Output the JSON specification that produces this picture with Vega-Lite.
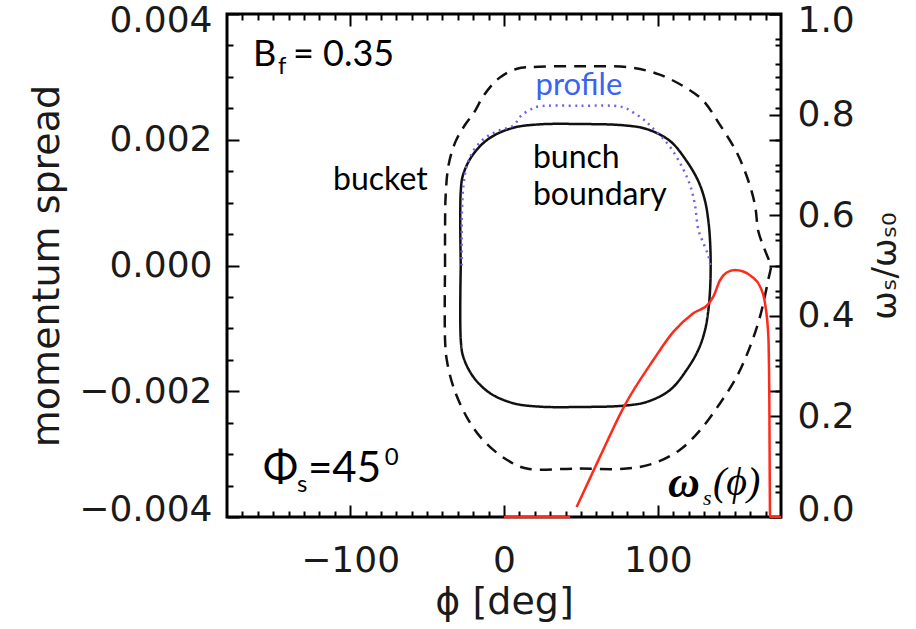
{
  "$schema": "https://vega.github.io/schema/vega-lite/v6.json",
  "width": 554,
  "height": 503,
  "autosize": "none",
  "padding": {"left": 227, "top": 14, "right": 135, "bottom": 112},
  "background": "white",
  "config": {
    "view": {"stroke": "#000", "strokeWidth": 3},
    "axis": {
      "domain": false, "grid": false,
      "labelFont": "DejaVu Sans", "labelFontSize": 36, "labelColor": "#1a1a1a",
      "titleFont": "DejaVu Sans", "titleFontSize": 38, "titleFontWeight": "normal", "titleColor": "#1a1a1a",
      "tickColor": "#000", "tickWidth": 2, "labelOverlap": false
    }
  },
  "datasets": {
    "curves": [
      {"s": "bucket", "o": 1, "phi": -38.3, "v": 0},
      {"s": "bucket", "o": 2, "phi": -38.3, "v": 0.00057},
      {"s": "bucket", "o": 3, "phi": -37.9, "v": 0.00112},
      {"s": "bucket", "o": 4, "phi": -36.0, "v": 0.0016},
      {"s": "bucket", "o": 5, "phi": -31.5, "v": 0.00197},
      {"s": "bucket", "o": 6, "phi": -25.5, "v": 0.00223},
      {"s": "bucket", "o": 7, "phi": -19.8, "v": 0.00242},
      {"s": "bucket", "o": 8, "phi": -12.7, "v": 0.00272},
      {"s": "bucket", "o": 9, "phi": -3.2, "v": 0.00298},
      {"s": "bucket", "o": 10, "phi": 8.4, "v": 0.00313},
      {"s": "bucket", "o": 11, "phi": 22.7, "v": 0.00316},
      {"s": "bucket", "o": 12, "phi": 52.6, "v": 0.00317},
      {"s": "bucket", "o": 13, "phi": 81.9, "v": 0.00315},
      {"s": "bucket", "o": 14, "phi": 100.7, "v": 0.00304},
      {"s": "bucket", "o": 15, "phi": 117.3, "v": 0.00284},
      {"s": "bucket", "o": 16, "phi": 129.1, "v": 0.00263},
      {"s": "bucket", "o": 17, "phi": 139.7, "v": 0.00226},
      {"s": "bucket", "o": 18, "phi": 151.2, "v": 0.0018},
      {"s": "bucket", "o": 19, "phi": 158.6, "v": 0.00136},
      {"s": "bucket", "o": 20, "phi": 163.1, "v": 0.00096},
      {"s": "bucket", "o": 21, "phi": 165.3, "v": 0.00054},
      {"s": "bucket", "o": 22, "phi": 169.0, "v": 0.00028},
      {"s": "bucket", "o": 23, "phi": 172.9, "v": 0.00004},
      {"s": "bucket", "o": 24, "phi": 173.5, "v": 0},
      {"s": "bucket", "o": 25, "phi": 171.7, "v": -0.00023},
      {"s": "bucket", "o": 26, "phi": 166.4, "v": -0.00081},
      {"s": "bucket", "o": 27, "phi": 159.9, "v": -0.00129},
      {"s": "bucket", "o": 28, "phi": 151.2, "v": -0.00177},
      {"s": "bucket", "o": 29, "phi": 140.4, "v": -0.00219},
      {"s": "bucket", "o": 30, "phi": 127.4, "v": -0.00262},
      {"s": "bucket", "o": 31, "phi": 114.4, "v": -0.00293},
      {"s": "bucket", "o": 32, "phi": 97.0, "v": -0.00315},
      {"s": "bucket", "o": 33, "phi": 79.7, "v": -0.00323},
      {"s": "bucket", "o": 34, "phi": 46.8, "v": -0.00323},
      {"s": "bucket", "o": 35, "phi": 14.8, "v": -0.00323},
      {"s": "bucket", "o": 36, "phi": 1.8, "v": -0.00309},
      {"s": "bucket", "o": 37, "phi": -13.5, "v": -0.00278},
      {"s": "bucket", "o": 38, "phi": -24.2, "v": -0.00241},
      {"s": "bucket", "o": 39, "phi": -32.9, "v": -0.00193},
      {"s": "bucket", "o": 40, "phi": -37.2, "v": -0.0015},
      {"s": "bucket", "o": 41, "phi": -38.3, "v": -0.00119},
      {"s": "bucket", "o": 42, "phi": -38.3, "v": 0},

      {"s": "bunch", "o": 1, "phi": -28.1, "v": 0},
      {"s": "bunch", "o": 2, "phi": -28.1, "v": -0.00118},
      {"s": "bunch", "o": 3, "phi": -26.5, "v": -0.00145},
      {"s": "bunch", "o": 4, "phi": -20.0, "v": -0.00177},
      {"s": "bunch", "o": 5, "phi": -9.1, "v": -0.00203},
      {"s": "bunch", "o": 6, "phi": 6.0, "v": -0.00219},
      {"s": "bunch", "o": 7, "phi": 23.4, "v": -0.002245},
      {"s": "bunch", "o": 8, "phi": 50, "v": -0.00225},
      {"s": "bunch", "o": 9, "phi": 77.5, "v": -0.00223},
      {"s": "bunch", "o": 10, "phi": 92.7, "v": -0.00217},
      {"s": "bunch", "o": 11, "phi": 107.9, "v": -0.00198},
      {"s": "bunch", "o": 12, "phi": 118.7, "v": -0.00166},
      {"s": "bunch", "o": 13, "phi": 126.3, "v": -0.00134},
      {"s": "bunch", "o": 14, "phi": 130.6, "v": -0.00103},
      {"s": "bunch", "o": 15, "phi": 132.8, "v": -0.00071},
      {"s": "bunch", "o": 16, "phi": 133.9, "v": -0.00039},
      {"s": "bunch", "o": 17, "phi": 134.3, "v": 0},
      {"s": "bunch", "o": 18, "phi": 133.9, "v": 0.00039},
      {"s": "bunch", "o": 19, "phi": 132.8, "v": 0.00071},
      {"s": "bunch", "o": 20, "phi": 130.6, "v": 0.00103},
      {"s": "bunch", "o": 21, "phi": 126.3, "v": 0.00134},
      {"s": "bunch", "o": 22, "phi": 118.7, "v": 0.00166},
      {"s": "bunch", "o": 23, "phi": 107.9, "v": 0.00198},
      {"s": "bunch", "o": 24, "phi": 92.7, "v": 0.00217},
      {"s": "bunch", "o": 25, "phi": 77.5, "v": 0.00223},
      {"s": "bunch", "o": 26, "phi": 50, "v": 0.00225},
      {"s": "bunch", "o": 27, "phi": 23.4, "v": 0.002245},
      {"s": "bunch", "o": 28, "phi": 6.0, "v": 0.00219},
      {"s": "bunch", "o": 29, "phi": -9.1, "v": 0.00203},
      {"s": "bunch", "o": 30, "phi": -20.0, "v": 0.00177},
      {"s": "bunch", "o": 31, "phi": -26.5, "v": 0.00145},
      {"s": "bunch", "o": 32, "phi": -28.1, "v": 0.00118},
      {"s": "bunch", "o": 33, "phi": -28.1, "v": 0},

      {"s": "profile", "o": 1, "phi": -27.5, "v": 0},
      {"s": "profile", "o": 2, "phi": -27.5, "v": 0.000406},
      {"s": "profile", "o": 3, "phi": -27.3, "v": 0.000883},
      {"s": "profile", "o": 4, "phi": -26.3, "v": 0.00128},
      {"s": "profile", "o": 5, "phi": -24.0, "v": 0.0016},
      {"s": "profile", "o": 6, "phi": -19.5, "v": 0.00184},
      {"s": "profile", "o": 7, "phi": -12.3, "v": 0.00203},
      {"s": "profile", "o": 8, "phi": -3.9, "v": 0.00214},
      {"s": "profile", "o": 9, "phi": 6.2, "v": 0.00223},
      {"s": "profile", "o": 10, "phi": 11.0, "v": 0.00238},
      {"s": "profile", "o": 11, "phi": 18.1, "v": 0.00249},
      {"s": "profile", "o": 12, "phi": 22.7, "v": 0.00253},
      {"s": "profile", "o": 13, "phi": 49.4, "v": 0.00254},
      {"s": "profile", "o": 14, "phi": 77.1, "v": 0.00252},
      {"s": "profile", "o": 15, "phi": 84.2, "v": 0.00243},
      {"s": "profile", "o": 16, "phi": 91.3, "v": 0.00231},
      {"s": "profile", "o": 17, "phi": 96.0, "v": 0.0022},
      {"s": "profile", "o": 18, "phi": 102.7, "v": 0.00204},
      {"s": "profile", "o": 19, "phi": 109.2, "v": 0.00184},
      {"s": "profile", "o": 20, "phi": 115.7, "v": 0.00157},
      {"s": "profile", "o": 21, "phi": 120.9, "v": 0.00128},
      {"s": "profile", "o": 22, "phi": 124.1, "v": 0.00096},
      {"s": "profile", "o": 23, "phi": 126.3, "v": 0.00057},
      {"s": "profile", "o": 24, "phi": 129.5, "v": 0.00036},
      {"s": "profile", "o": 25, "phi": 132.6, "v": 0.00017},
      {"s": "profile", "o": 26, "phi": 134.2, "v": 0},

      {"s": "ws1", "o": 1, "phi": 0, "v": 0},
      {"s": "ws1", "o": 2, "phi": 43, "v": 0},
      {"s": "ws2", "o": 1, "phi": 47.2, "v": 0.02},
      {"s": "ws2", "o": 2, "phi": 62.4, "v": 0.12},
      {"s": "ws2", "o": 3, "phi": 78.6, "v": 0.223},
      {"s": "ws2", "o": 4, "phi": 97.0, "v": 0.312},
      {"s": "ws2", "o": 5, "phi": 110.0, "v": 0.368},
      {"s": "ws2", "o": 6, "phi": 123.0, "v": 0.405},
      {"s": "ws2", "o": 7, "phi": 132.8, "v": 0.4235},
      {"s": "ws2", "o": 8, "phi": 136.0, "v": 0.438},
      {"s": "ws2", "o": 9, "phi": 140.4, "v": 0.471},
      {"s": "ws2", "o": 10, "phi": 144.7, "v": 0.486},
      {"s": "ws2", "o": 11, "phi": 150.1, "v": 0.491},
      {"s": "ws2", "o": 12, "phi": 155.5, "v": 0.488},
      {"s": "ws2", "o": 13, "phi": 161.0, "v": 0.478},
      {"s": "ws2", "o": 14, "phi": 166.4, "v": 0.458},
      {"s": "ws2", "o": 15, "phi": 169.6, "v": 0.425},
      {"s": "ws2", "o": 16, "phi": 171.8, "v": 0.358},
      {"s": "ws2", "o": 17, "phi": 172.4, "v": 0.239},
      {"s": "ws2", "o": 18, "phi": 172.9, "v": 0},
      {"s": "ws2", "o": 19, "phi": 180, "v": 0}
    ],
    "ann": [
      {"t": "B", "k": "big", "phi": -163.1, "v": 0.00317},
      {"t": "= 0.35", "k": "big", "phi": -137.1, "v": 0.00317},
      {"t": "f", "k": "small", "phi": -146.9, "v": 0.00305},
      {"t": "bucket", "k": "mid", "phi": -111.1, "v": 0.0012},
      {"t": "bunch", "k": "mid", "phi": 18.8, "v": 0.00155},
      {"t": "boundary", "k": "mid", "phi": 18.8, "v": 0.00096},
      {"t": "profile", "k": "blue", "phi": 48.7, "v": 0.00271},
      {"t": "Φ", "k": "huge", "phi": -156.6, "v": -0.00344},
      {"t": "=45", "k": "huge", "phi": -127.4, "v": -0.00344},
      {"t": "s", "k": "small", "phi": -134.5, "v": -0.0036},
      {"t": "0", "k": "small", "phi": -77.5, "v": -0.00317},
      {"t": "ω", "k": "om", "phi": 106.6, "v": -0.00368},
      {"t": "s", "k": "omsub", "phi": 129.3, "v": -0.00381},
      {"t": "(ϕ)", "k": "omp", "phi": 135.8, "v": -0.00365}
    ]
  },
  "layer": [
    {
      "data": {"name": "curves"},
      "transform": [{"filter": "datum.s === 'bucket' || datum.s === 'bunch'"}],
      "mark": {"type": "line", "interpolate": "catmull-rom", "strokeWidth": 2.5, "color": "#111"},
      "encoding": {
        "x": {
          "field": "phi", "type": "quantitative",
          "scale": {"domain": [-180, 180], "nice": false, "zero": false},
          "axis": {
            "orient": "bottom", "values": [-100, 0, 100], "format": "d",
            "tickSize": -12, "labelPadding": 38, "labelFlush": false,
            "title": "ϕ  [deg]", "titlePadding": 5
          }
        },
        "y": {
          "field": "v", "type": "quantitative",
          "scale": {"domain": [-0.004, 0.004], "nice": false, "zero": false},
          "axis": {
            "orient": "left", "values": [-0.004, -0.002, 0, 0.002, 0.004], "format": ".3f",
            "tickSize": -12, "labelPadding": 27, "labelFlush": true, "labelFlushOffset": 11,
            "title": "momentum  spread", "titlePadding": 12
          }
        },
        "order": {"field": "o", "type": "quantitative"},
        "strokeDash": {"field": "s", "type": "nominal", "scale": {"domain": ["bucket", "bunch"], "range": [[12, 8], [1, 0]]}, "legend": null}
      }
    },
    {
      "data": {"name": "curves"},
      "transform": [{"filter": "datum.s === 'profile'"}],
      "mark": {"type": "line", "interpolate": "catmull-rom", "strokeWidth": 2.5, "color": "#6f63e8", "strokeDash": [2, 4.5]},
      "encoding": {
        "x": {
          "field": "phi", "type": "quantitative",
          "axis": {
            "orient": "bottom",
            "values": [-170, -160, -150, -140, -130, -120, -110, -90, -80, -70, -60, -50, -40, -30, -20, -10, 10, 20, 30, 40, 50, 60, 70, 80, 90, 110, 120, 130, 140, 150, 160, 170],
            "labels": false, "tickSize": -6, "title": null
          }
        },
        "y": {
          "field": "v", "type": "quantitative",
          "scale": {"domain": [-0.004, 0.004], "nice": false, "zero": false},
          "axis": {
            "orient": "left",
            "values": [-0.0035, -0.003, -0.0025, -0.0015, -0.001, -0.0005, 0.0005, 0.001, 0.0015, 0.0025, 0.003, 0.0035],
            "labels": false, "tickSize": -6, "title": null
          }
        },
        "order": {"field": "o", "type": "quantitative"}
      }
    },
    {
      "data": {"name": "curves"},
      "transform": [{"filter": "datum.s === 'ws2'"}],
      "mark": {"type": "line", "interpolate": "monotone", "strokeWidth": 2.5, "color": "#ff2a1a"},
      "encoding": {
        "x": {
          "field": "phi", "type": "quantitative",
          "axis": {"orient": "top", "values": [-100, 0, 100], "labels": false, "tickSize": -12, "title": null}
        },
        "y": {
          "field": "v", "type": "quantitative",
          "scale": {"domain": [0, 1], "nice": false, "zero": false},
          "axis": {
            "orient": "right", "values": [0, 0.2, 0.4, 0.6, 0.8, 1], "format": ".1f",
            "tickSize": -12, "labelPadding": 28, "labelFlush": true, "labelFlushOffset": 11,
            "title": "ωₛ/ωₛ₀", "titleFontSize": 34, "titleAngle": 270, "titlePadding": 48
          }
        },
        "order": {"field": "o", "type": "quantitative"}
      }
    },
    {
      "data": {"name": "curves"},
      "transform": [{"filter": "datum.s === 'ws1'"}],
      "mark": {"type": "line", "strokeWidth": 2.5, "color": "#ff2a1a"},
      "encoding": {
        "x": {
          "field": "phi", "type": "quantitative",
          "axis": {
            "orient": "top",
            "values": [-170, -160, -150, -140, -130, -120, -110, -90, -80, -70, -60, -50, -40, -30, -20, -10, 10, 20, 30, 40, 50, 60, 70, 80, 90, 110, 120, 130, 140, 150, 160, 170],
            "labels": false, "tickSize": -6, "title": null
          }
        },
        "y": {
          "field": "v", "type": "quantitative",
          "scale": {"domain": [0, 1], "nice": false, "zero": false},
          "axis": {
            "orient": "right",
            "values": [0.05, 0.1, 0.15, 0.25, 0.3, 0.35, 0.45, 0.5, 0.55, 0.65, 0.7, 0.75, 0.85, 0.9, 0.95],
            "labels": false, "tickSize": -6, "title": null
          }
        },
        "order": {"field": "o", "type": "quantitative"}
      }
    },
    {
      "data": {"name": "ann"},
      "transform": [{"filter": "datum.k === 'big'"}],
      "mark": {"type": "text", "font": "Lato", "fontSize": 36, "align": "left", "baseline": "alphabetic", "color": "#000"},
      "encoding": {
        "x": {"field": "phi", "type": "quantitative", "axis": null},
        "y": {
          "field": "v", "type": "quantitative",
          "scale": {"domain": [-0.004, 0.004], "nice": false, "zero": false},
          "axis": {"orient": "right", "values": [-0.004, -0.002, 0, 0.002, 0.004], "labels": false, "tickSize": -12, "title": null}
        },
        "text": {"field": "t"}
      }
    },
    {
      "data": {"name": "ann"},
      "transform": [{"filter": "datum.k === 'small'"}],
      "mark": {"type": "text", "font": "Lato", "fontSize": 24, "align": "left", "baseline": "alphabetic", "color": "#000"},
      "encoding": {
        "x": {"field": "phi", "type": "quantitative", "axis": null},
        "y": {
          "field": "v", "type": "quantitative",
          "scale": {"domain": [-0.004, 0.004], "nice": false, "zero": false},
          "axis": {
            "orient": "right",
            "values": [-0.0035, -0.003, -0.0025, -0.0015, -0.001, -0.0005, 0.0005, 0.001, 0.0015, 0.0025, 0.003, 0.0035],
            "labels": false, "tickSize": -6, "title": null
          }
        },
        "text": {"field": "t"}
      }
    },
    {
      "data": {"name": "ann"},
      "transform": [{"filter": "datum.k === 'mid'"}],
      "mark": {"type": "text", "font": "Lato", "fontSize": 32, "align": "left", "baseline": "alphabetic", "color": "#000"},
      "encoding": {
        "x": {"field": "phi", "type": "quantitative", "axis": null},
        "y": {"field": "v", "type": "quantitative", "scale": {"domain": [-0.004, 0.004], "nice": false, "zero": false}, "axis": null},
        "text": {"field": "t"}
      }
    },
    {
      "data": {"name": "ann"},
      "transform": [{"filter": "datum.k === 'blue'"}],
      "mark": {"type": "text", "font": "Lato", "fontSize": 31, "align": "center", "baseline": "alphabetic", "color": "#3b63f2"},
      "encoding": {
        "x": {"field": "phi", "type": "quantitative", "axis": null},
        "y": {"field": "v", "type": "quantitative", "scale": {"domain": [-0.004, 0.004], "nice": false, "zero": false}, "axis": null},
        "text": {"field": "t"}
      }
    },
    {
      "data": {"name": "ann"},
      "transform": [{"filter": "datum.k === 'huge'"}],
      "mark": {"type": "text", "font": "Lato", "fontSize": 42, "align": "left", "baseline": "alphabetic", "color": "#000"},
      "encoding": {
        "x": {"field": "phi", "type": "quantitative", "axis": null},
        "y": {"field": "v", "type": "quantitative", "scale": {"domain": [-0.004, 0.004], "nice": false, "zero": false}, "axis": null},
        "text": {"field": "t"}
      }
    },
    {
      "data": {"name": "ann"},
      "transform": [{"filter": "datum.k === 'om'"}],
      "mark": {"type": "text", "font": "Liberation Serif", "fontSize": 44, "fontStyle": "italic", "fontWeight": "bold", "align": "left", "baseline": "alphabetic", "color": "#000"},
      "encoding": {
        "x": {"field": "phi", "type": "quantitative", "axis": null},
        "y": {"field": "v", "type": "quantitative", "scale": {"domain": [-0.004, 0.004], "nice": false, "zero": false}, "axis": null},
        "text": {"field": "t"}
      }
    },
    {
      "data": {"name": "ann"},
      "transform": [{"filter": "datum.k === 'omsub'"}],
      "mark": {"type": "text", "font": "Liberation Serif", "fontSize": 22, "fontStyle": "italic", "align": "left", "baseline": "alphabetic", "color": "#000"},
      "encoding": {
        "x": {"field": "phi", "type": "quantitative", "axis": null},
        "y": {"field": "v", "type": "quantitative", "scale": {"domain": [-0.004, 0.004], "nice": false, "zero": false}, "axis": null},
        "text": {"field": "t"}
      }
    },
    {
      "data": {"name": "ann"},
      "transform": [{"filter": "datum.k === 'omp'"}],
      "mark": {"type": "text", "font": "Liberation Serif", "fontSize": 40, "fontStyle": "italic", "align": "left", "baseline": "alphabetic", "color": "#000"},
      "encoding": {
        "x": {"field": "phi", "type": "quantitative", "axis": null},
        "y": {"field": "v", "type": "quantitative", "scale": {"domain": [-0.004, 0.004], "nice": false, "zero": false}, "axis": null},
        "text": {"field": "t"}
      }
    }
  ],
  "resolve": {"scale": {"y": "independent"}, "axis": {"x": "independent", "y": "independent"}}
}
